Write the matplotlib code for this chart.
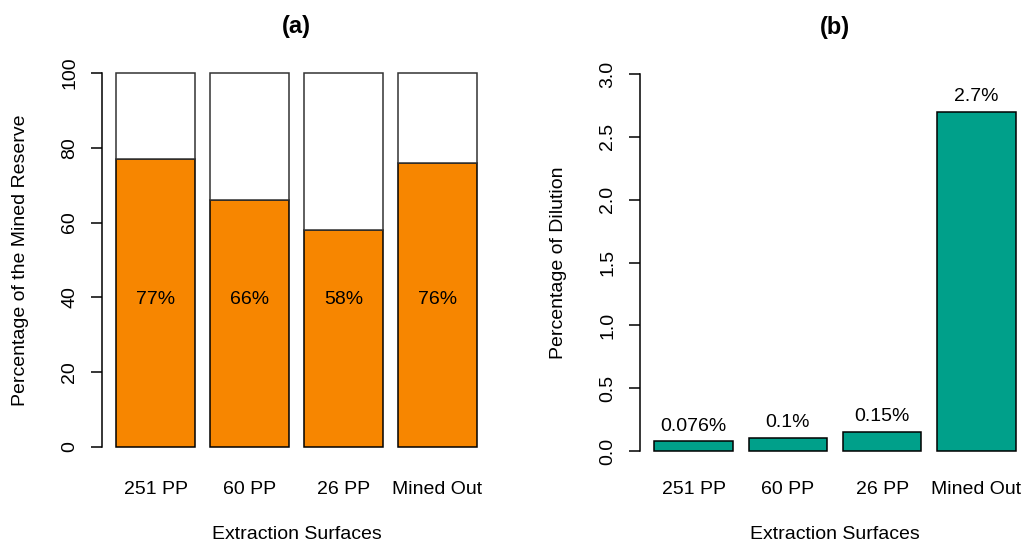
import matplotlib
matplotlib.use("Agg")
import matplotlib.pyplot as plt

# Data
surfaces = ["251 PP", "60 PP", "26 PP", "Mined Out"]
mined_reserve = [77, 66, 58, 76]          # % of the mined reserve
dilution = [0.076, 0.1, 0.15, 2.7]        # % of dilution
reserve_labels = ["77%", "66%", "58%", "76%"]
dilution_labels = ["0.076%", "0.1%", "0.15%", "2.7%"]

ORANGE = "#F78600"
TEAL = "#00A08A"

plt.rcParams["font.family"] = ["Liberation Sans", "DejaVu Sans"]
plt.rcParams["font.size"] = 14

W, H = 1022, 544
fig = plt.figure(figsize=(W / 100, H / 100), dpi=100)


def px_axes(left, right, top, bottom):
    return fig.add_axes([left / W, 1 - bottom / H, (right - left) / W, (bottom - top) / H])


# bar geometry: width 1, gap 0.2
lefts = [0.2 + i * 1.2 for i in range(len(surfaces))]
centers = [x + 0.5 for x in lefts]
xlim = (0.016, 4.984)


def style(ax, ymax, yticks, yticklabels, ylabel, title, xtick_pad):
    for s in ["top", "right", "bottom"]:
        ax.spines[s].set_visible(False)
    ax.spines["left"].set_bounds(0, ymax)
    ax.spines["left"].set_linewidth(1.1)
    ax.set_xlim(*xlim)
    ax.set_ylim(0, ymax)
    ax.set_yticks(yticks)
    ax.set_yticklabels(yticklabels, rotation=90, va="center")
    ax.tick_params(axis="y", direction="out", length=8, width=1.1, pad=9)
    ax.set_xticks(centers)
    ax.set_xticklabels(surfaces)
    ax.tick_params(axis="x", length=0, pad=xtick_pad)
    ax.set_ylabel(ylabel, labelpad=23)
    ax.set_xlabel("Extraction Surfaces", labelpad=20)
    ax.set_title(title, fontweight="bold", fontsize=17, pad=29)


# (a) stacked percentage of mined reserve
ax1 = px_axes(102, 491, 73, 447)
rest = [100 - v for v in mined_reserve]
ax1.bar(lefts, mined_reserve, width=1, align="edge", color=ORANGE,
        edgecolor="black", linewidth=1.1, clip_on=False)
ax1.bar(lefts, rest, bottom=mined_reserve, width=1, align="edge", color="white",
        edgecolor="#333333", linewidth=1.1, clip_on=False)
for c, lab in zip(centers, reserve_labels):
    ax1.text(c, 40, lab, ha="center", va="center_baseline")
style(ax1, 100, [0, 20, 40, 60, 80, 100], ["0", "20", "40", "60", "80", "100"],
      "Percentage of the Mined Reserve", "(a)", 24.5)

# (b) dilution
ax2 = px_axes(640, 1030, 74, 451)
ax2.bar(lefts, dilution, width=1, align="edge", color=TEAL,
        edgecolor="black", linewidth=1.1, clip_on=False)
for c, v, lab in zip(centers, dilution, dilution_labels):
    ax2.annotate(lab, (c, v), xytext=(0, 5), textcoords="offset points",
                 ha="center", va="bottom")
style(ax2, 3.0, [0, 0.5, 1.0, 1.5, 2.0, 2.5, 3.0],
      ["0.0", "0.5", "1.0", "1.5", "2.0", "2.5", "3.0"],
      "Percentage of Dilution", "(b)", 21.5)

fig.savefig("out.png", dpi=100)
